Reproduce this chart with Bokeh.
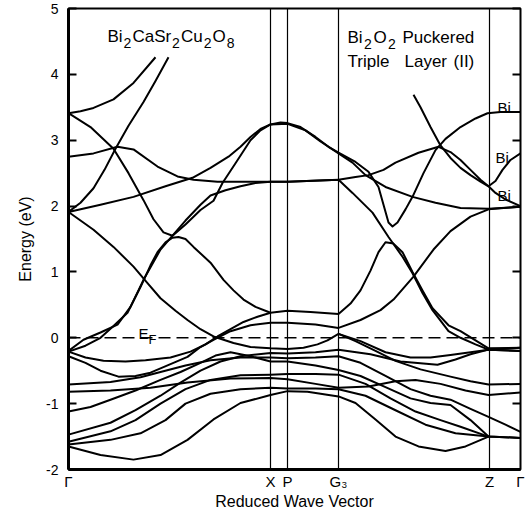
import math
from bokeh.plotting import figure
from bokeh.models import Range1d, FixedTicker, LinearAxis, Span, Label, ColumnDataSource
from bokeh.embed import file_html
from bokeh.resources import INLINE

# ---------------- data ----------------
KPOS = [0, 202, 219, 270, 421, 452]          # Γ, X, P, G3, Z, Γ (k-path distance)
KNAMES = ["Γ", "X", "P", "G₃", "Z", "Γ"]
YTICKS = [-2, -1, 0, 1, 2, 3, 4, 5]
E_FERMI = 0.0

band_01 = [(0,3.41),(12,3.44),(25,3.49),(45,3.62),(65,3.87),(87,4.26)]
band_02 = [(0,1.91),(12,2.05),(25,2.27),(36,2.55),(47,2.87),(60,3.22),(75,3.58),(87,3.90),(100,4.26)]
band_03 = [(0,3.41),(22,3.20),(45,2.87),(60,2.50),(75,2.09),(85,1.80),(95,1.60),(104,1.55),(117,1.78),
           (132,2.02),(142,2.16),(157,2.24),(172,2.30),(187,2.35),(202,2.37),(219,2.37),(270,2.40),(287,2.44),
           (300,2.47),(315,2.55),(327,2.66),(350,2.81),(370,2.90),(382,2.82),(392,2.70),(402,2.55),(412,2.40),
           (420,2.30),(427,2.38),(434,2.55),(442,2.70),(452,2.80)]
band_04 = [(0,2.75),(25,2.80),(49,2.90),(65,2.86),(89,2.60),(109,2.45),(125,2.40),(149,2.37),(202,2.37),
           (219,2.37),(270,2.40),(284,2.20),(304,1.90),(320,1.53),(334,1.23),(344,0.98),(354,0.68),(364,0.42),
           (380,0.10),(392,0.00),(407,-0.10),(420,-0.18),(452,-0.20)]
band_05 = [(0,1.91),(32,2.02),(65,2.14),(97,2.30),(124,2.43),(142,2.58),(160,2.75),(172,2.90),(182,3.05),
           (192,3.17),(202,3.24),(212,3.27),(219,3.26),(232,3.20),(247,3.05),(260,2.90),(270,2.81),(287,2.67),
           (300,2.52),(310,2.29),(315,2.02),(320,1.75),(324,1.69),(329,1.75),(337,1.95),(344,2.14),(355,2.50),
           (367,2.85),(377,3.02),(392,3.20),(407,3.33),(419,3.41),(432,3.43),(452,3.43)]
band_06 = [(0,-0.20),(15,-0.03),(32,0.08),(49,0.20),(62,0.47),(75,0.88),(92,1.34),(104,1.55),(117,1.72),
           (132,1.94),(145,2.08),(154,2.35),(167,2.65),(182,3.00),(192,3.15),(202,3.24),(219,3.25),(237,3.15),
           (252,2.98),(270,2.80),(284,2.66),(297,2.47),(317,2.29),(344,2.14),(367,2.05),(392,1.97),(420,1.96),
           (452,1.99)]
band_07 = [(0,-0.21),(17,-0.12),(32,0.00),(45,0.18),(59,0.38),(72,0.77),(82,1.10),(89,1.30),(97,1.45),
           (104,1.52),(110,1.53),(117,1.50),(125,1.38),(142,1.14),(155,0.88),(165,0.72),(175,0.58),(187,0.47),
           (202,0.38)]
band_08 = [(0,-0.21),(17,-0.30),(35,-0.35),(57,-0.36),(77,-0.34),(102,-0.30),(122,-0.21),(137,-0.10),
           (149,0.02),(162,0.13),(175,0.24),(189,0.32),(202,0.38),(219,0.41),(242,0.39),(270,0.36),(282,0.52),
           (292,0.72),(302,1.02),(310,1.30),(317,1.45),(325,1.43),(334,1.30),(344,1.00),(354,0.72),(364,0.45),
           (380,0.19),(392,0.10),(407,-0.04),(420,-0.16),(452,-0.15)]
band_09 = [(0,-0.28),(17,-0.38),(32,-0.50),(50,-0.59),(67,-0.58),(82,-0.53),(102,-0.40),(119,-0.29),
           (132,-0.14),(145,-0.03),(162,0.10),(182,0.19),(202,0.23),(219,0.23),(247,0.20),(270,0.15),(292,0.27),
           (312,0.42),(325,0.58),(345,0.93),(365,1.34),(382,1.62),(402,1.84),(420,1.95),(452,1.99)]
band_10 = [(0,1.91),(12,1.78),(25,1.64),(45,1.38),(65,1.08),(79,0.83),(92,0.60),(107,0.41),(119,0.27),
           (132,0.13),(145,0.02),(165,-0.08),(182,-0.14),(202,-0.16),(219,-0.17),(235,-0.15),(249,-0.10),
           (259,-0.04),(270,0.06),(292,-0.05),(317,-0.22),(342,-0.30),(362,-0.30),(382,-0.26),(402,-0.22),
           (420,-0.18),(452,-0.20)]
band_11 = [(270,0.06),(287,-0.05),(307,-0.20),(327,-0.35),(352,-0.48),(382,-0.59),(402,-0.66),(420,-0.71),
           (452,-0.70)]
band_12 = [(0,-1.47),(42,-1.29),(67,-1.10),(92,-0.88),(112,-0.68),(132,-0.50),(152,-0.36),(172,-0.28),
           (202,-0.23),(219,-0.24),(247,-0.22),(270,-0.18),(302,-0.25),(332,-0.36),(369,-0.41),(387,-0.33),
           (402,-0.25),(420,-0.18),(452,-0.15)]
band_13 = [(0,-0.71),(42,-0.67),(72,-0.60),(92,-0.52),(117,-0.42),(142,-0.34),(172,-0.30),(202,-0.30),
           (219,-0.31),(247,-0.30),(270,-0.28),(292,-0.38),(317,-0.58),(342,-0.78),(362,-0.88),(382,-0.94),
           (402,-1.08),(420,-1.20),(437,-1.32),(452,-1.43)]
band_14 = [(0,-1.12),(22,-1.05),(42,-0.94),(67,-0.80),(92,-0.64),(112,-0.52),(132,-0.38),(147,-0.27),
           (162,-0.22),(182,-0.28),(202,-0.36),(219,-0.36),(247,-0.42),(270,-0.49),(292,-0.58),(317,-0.75),
           (342,-0.92),(362,-0.99),(382,-1.02),(402,-1.25),(420,-1.50),(452,-1.52)]
band_15 = [(0,-1.58),(42,-1.42),(67,-1.25),(92,-1.00),(117,-0.78),(142,-0.64),(172,-0.57),(202,-0.56),
           (219,-0.55),(247,-0.55),(270,-0.56),(297,-0.70),(322,-0.92),(347,-1.12),(372,-1.25),(392,-1.35),
           (420,-1.50)]
band_16 = [(0,-0.82),(42,-0.80),(82,-0.76),(119,-0.68),(162,-0.62),(202,-0.61),(219,-0.63),(247,-0.70),
           (270,-0.76),(300,-0.74),(327,-0.66),(347,-0.64),(372,-0.70),(397,-0.80),(420,-0.87),(452,-0.83)]
band_17 = [(0,-1.62),(42,-1.55),(72,-1.45),(97,-1.25),(117,-1.00),(142,-0.85),(172,-0.78),(202,-0.76),
           (219,-0.77),(247,-0.77),(270,-0.78),(297,-0.88),(327,-1.10),(357,-1.32),(387,-1.45),(420,-1.50)]
band_18 = [(0,-1.65),(32,-1.78),(65,-1.85),(92,-1.78),(119,-1.55),(145,-1.24),(172,-0.99),(202,-0.87),
           (219,-0.81),(239,-0.82),(270,-0.89),(287,-0.99),(307,-1.24),(327,-1.50),(350,-1.65),(377,-1.72),
           (397,-1.65),(420,-1.50),(452,-1.52)]
band_19 = [(345,3.69),(352,3.50),(362,3.20),(372,2.92),(382,2.73),(392,2.58),(402,2.47),(412,2.37),
           (420,2.30),(427,2.20),(437,2.10),(452,2.00)]

BANDS = [band_01, band_02, band_03, band_04, band_05, band_06, band_07, band_08, band_09, band_10,
         band_11, band_12, band_13, band_14, band_15, band_16, band_17, band_18, band_19]

# ---------------- layout ----------------
W, H = 527, 514
ML, MR, MT, MB = 68, 7, 8, 45
FONT = "Liberation Sans"

p = figure(width=W, height=H, x_range=Range1d(KPOS[0], KPOS[-1]), y_range=Range1d(YTICKS[0], YTICKS[-1]),
           output_backend="svg", toolbar_location=None,
           min_border_left=ML, min_border_right=MR, min_border_top=MT, min_border_bottom=MB)
p.grid.visible = False
p.outline_line_color = "black"
p.outline_line_width = 2
p.background_fill_color = "white"
p.border_fill_color = "white"

FR_L = ML
FR_T = MT
FR_H = H - MT - MB
def kx(px):
    return px - FR_L
def ey(py):
    return YTICKS[-1] - (py - FR_T) * (YTICKS[-1] - YTICKS[0]) / FR_H

# left axis
ya = p.yaxis[0]
ya.ticker = FixedTicker(ticks=YTICKS)
ya.major_tick_in = 8
ya.major_tick_out = 0
ya.major_tick_line_width = 2
ya.minor_tick_line_color = None
ya.axis_line_width = 3
ya.major_label_standoff = 10
ya.major_label_text_font = FONT
ya.major_label_text_font_size = "14px"
ya.major_label_text_color = "black"
ya.major_label_overrides = {t: str(t) for t in YTICKS}
ya.axis_label = "Energy (eV)"
ya.axis_label_text_font = FONT
ya.axis_label_text_font_size = "16px"
ya.axis_label_text_font_style = "normal"
ya.axis_label_text_color = "black"
ya.axis_label_standoff = 9

# right axis (inward ticks only)
ra = LinearAxis(ticker=FixedTicker(ticks=YTICKS), major_tick_in=8, major_tick_out=0,
                major_tick_line_width=2, minor_tick_line_color=None, axis_line_color=None,
                major_label_text_font_size="0px", major_label_standoff=0,
                major_label_overrides={t: "" for t in YTICKS})
p.add_layout(ra, "right")

# bottom axis: k-point names
xa = p.xaxis[0]
xa.ticker = FixedTicker(ticks=KPOS)
xa.major_label_overrides = {k: n for k, n in zip(KPOS, KNAMES)}
xa.major_tick_line_color = None
xa.major_tick_in = 0
xa.major_tick_out = 0
xa.minor_tick_line_color = None
xa.axis_line_width = 3
xa.major_label_standoff = 3
xa.major_label_text_font = FONT
xa.major_label_text_font_size = "15px"
xa.major_label_text_color = "black"
xa.axis_label = "Reduced Wave Vector"
xa.axis_label_text_font = FONT
xa.axis_label_text_font_size = "16px"
xa.axis_label_text_font_style = "normal"
xa.axis_label_text_color = "black"
xa.axis_label_standoff = 0

# symmetry lines and Fermi level
for k in KPOS[1:-1]:
    p.add_layout(Span(location=k, dimension="height", line_color="black", line_width=1.2))
p.add_layout(Span(location=E_FERMI, dimension="width", line_color="black", line_width=1.5, line_dash="12 6"))

# bands
src = ColumnDataSource(dict(xs=[[pt[0] for pt in b] for b in BANDS],
                            ys=[[pt[1] for pt in b] for b in BANDS]))
p.multi_line(xs="xs", ys="ys", source=src, line_color="black", line_width=2, line_join="round")

# ---------------- text inside the frame ----------------
AW = {'B':667,'i':222,'C':722,'a':556,'S':667,'r':333,'u':556,'O':778,'2':556,'8':556,' ':278,'P':667,
      'c':500,'k':500,'e':556,'d':556,'T':611,'p':556,'l':222,'L':556,'y':500,'(':333,'I':278,')':333,
      'E':667,'F':611,'G':778,'3':556}
def tw(s, fs):
    return sum(AW.get(c, 556) for c in s) * fs / 1000.0

def lab(px, py, text, fs, align="left"):
    p.add_layout(Label(x=kx(px), y=ey(py), text=text, text_font=FONT, text_font_size=f"{fs}px",
                       text_align=align, text_baseline="alphabetic", text_color="black"))

def seq(px, py, segs, fs=17, sfs=14, drop=6, gap=1.0):
    x = px
    for s, sub in segs:
        f = sfs if sub else fs
        lab(x, py + (drop if sub else 0), s, f)
        x += tw(s, f) + gap

seq(107, 36, [("Bi",0),("2",1),("CaSr",0),("2",1),("Cu",0),("2",1),("O",0),("8",1)])
seq(347, 37, [("Bi",0),("2",1),("O",0),("2",1)], gap=1.5)
lab(402, 37, "Puckered", 17)
lab(347, 61, "Triple", 17)
lab(404, 61, "Layer", 17)
lab(453, 61, "(II)", 17)

# E_F label
lab(138, 333, "E", 15)
lab(148, 339, "F", 13)

# Bi labels
lab(497, 107, "Bi", 15)
lab(495, 157, "Bi", 15)
lab(497, 195, "Bi", 15)

open("out.html", "w").write(file_html(p, INLINE))
